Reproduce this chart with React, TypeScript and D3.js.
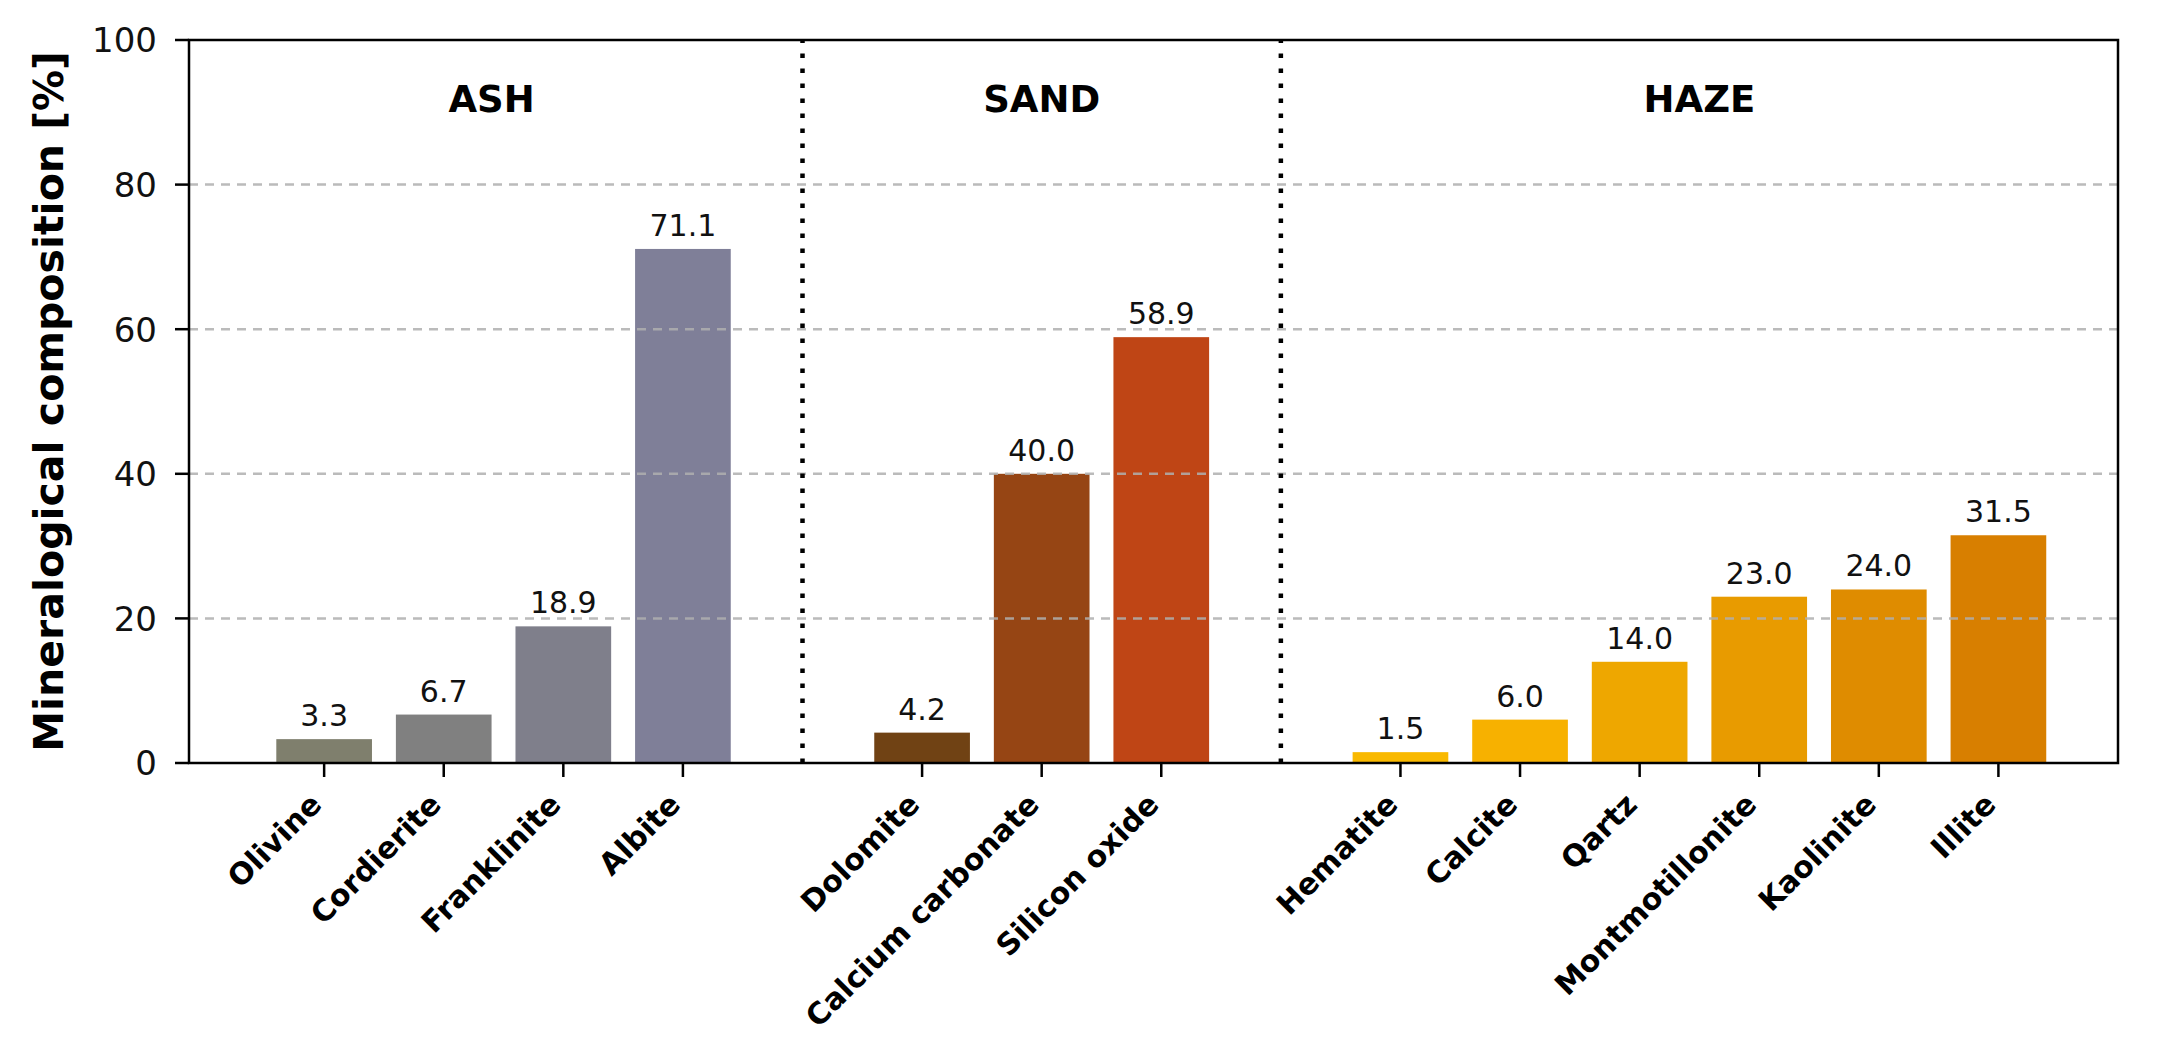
import React from "react";
import * as d3 from "d3";

const minerals = [
  "Olivine", "Cordierite", "Franklinite", "Albite",
  "Dolomite", "Calcium carbonate", "Silicon oxide",
  "Hematite", "Calcite", "Qartz", "Montmotillonite", "Kaolinite", "Illite",
];
const values = [3.3, 6.7, 18.9, 71.1, 4.2, 40.0, 58.9, 1.5, 6.0, 14.0, 23.0, 24.0, 31.5];
const positions = [0, 1, 2, 3, 5, 6, 7, 9, 10, 11, 12, 13, 14];
const colors = [
  "#7f7f6d", "#808080", "#7f7f8b", "#7f7f98",
  "#704214", "#964514", "#bf4515",
  "#f9b900", "#f7b100", "#eea700", "#e89b00", "#df8c00", "#d87f00",
];
const groupNames = ["ASH", "SAND", "HAZE"];
const groupPositions = [1.4, 6, 11.5];
const separators = [4, 8];
const yTicks = [0, 20, 40, 60, 80, 100];
const gridTicks = [20, 40, 60, 80];

const W = 2164;
const H = 1052;
const left = 189, right = 2118, top = 40, bottom = 763;
const FONT = "'DejaVu Sans', sans-serif";

export default function App() {
  const x = d3.scaleLinear().domain([-1.13, 15]).range([left, right]);
  const y = d3.scaleLinear().domain([0, 100]).range([bottom, top]);
  const bw = x(0.8) - x(0);

  return (
    <svg
      width={W}
      height={H}
      style={{ position: "absolute", left: 0, top: 0, background: "#fff" }}
      fontFamily={FONT}
    >
      <rect x={0} y={0} width={W} height={H} fill="#fff" />
      {/* bars */}
      {values.map((v, i) => (
        <rect
          key={"b" + i}
          x={x(positions[i]) - bw / 2}
          y={y(v)}
          width={bw}
          height={y(0) - y(v)}
          fill={colors[i]}
        />
      ))}
      {/* grid */}
      {gridTicks.map((t) => (
        <line
          key={"g" + t}
          x1={left}
          x2={right}
          y1={y(t)}
          y2={y(t)}
          stroke="#b0b0b0"
          strokeWidth={2.5}
          strokeDasharray="9 7"
          opacity={0.85}
        />
      ))}
      {/* separators */}
      {separators.map((s) => (
        <line
          key={"s" + s}
          x1={x(s)}
          x2={x(s)}
          y1={y(0)}
          y2={y(100)}
          stroke="#000"
          strokeWidth={4.5}
          strokeDasharray="4.5 10.5"
        />
      ))}
      {/* value labels */}
      {values.map((v, i) => (
        <text
          key={"v" + i}
          x={x(positions[i])}
          y={y(v) - 13}
          textAnchor="middle"
          fontSize={30}
          fill="#111"
        >
          {v.toFixed(1)}
        </text>
      ))}
      {/* group labels */}
      {groupNames.map((g, i) => (
        <text
          key={"gr" + g}
          x={x(groupPositions[i])}
          y={y(90)}
          textAnchor="middle"
          fontSize={37}
          fontWeight="bold"
          fill="#000"
        >
          {g}
        </text>
      ))}
      {/* frame */}
      <rect
        x={left}
        y={top}
        width={right - left}
        height={bottom - top}
        fill="none"
        stroke="#000"
        strokeWidth={2.5}
      />
      {/* y ticks */}
      {yTicks.map((t) => (
        <g key={"yt" + t}>
          <line x1={left - 14} x2={left} y1={y(t)} y2={y(t)} stroke="#000" strokeWidth={2.5} />
          <text x={157} y={y(t) + 12.4} textAnchor="end" fontSize={34} fill="#111">
            {t}
          </text>
        </g>
      ))}
      {/* x ticks & labels */}
      {minerals.map((m, i) => (
        <g key={"xt" + i}>
          <line
            x1={x(positions[i])}
            x2={x(positions[i])}
            y1={bottom}
            y2={bottom + 14}
            stroke="#000"
            strokeWidth={2.5}
          />
          <text
            transform={`translate(${x(positions[i]) - 16},${bottom + 28}) rotate(-45)`}
            textAnchor="end"
            dy="0.72em"
            fontSize={30}
            fontWeight="bold"
            fill="#000"
          >
            {m}
          </text>
        </g>
      ))}
      {/* y label */}
      <text
        transform={`translate(63,${(top + bottom) / 2}) rotate(-90)`}
        textAnchor="middle"
        fontSize={41}
        fontWeight="bold"
        fill="#000"
      >
        Mineralogical composition [%]
      </text>
    </svg>
  );
}
